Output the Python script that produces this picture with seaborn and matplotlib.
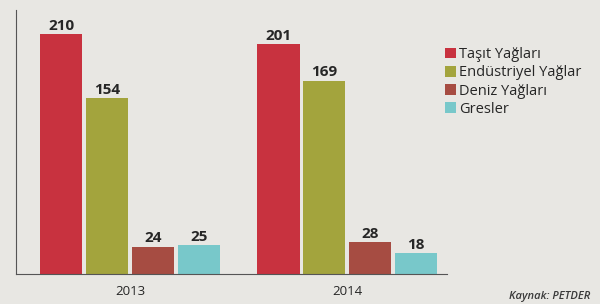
import pandas as pd
import seaborn as sns
import matplotlib.pyplot as plt
from matplotlib.patches import Patch

# data
years = ["2013", "2014"]
categories = ["Taşıt Yağları", "Endüstriyel Yağlar", "Deniz Yağları", "Gresler"]
values_2013 = [210, 154, 24, 25]
values_2014 = [201, 169, 28, 18]
colors = ["#c8323f", "#a3a43d", "#a64c42", "#78c8ca"]

df = pd.DataFrame({
    "year": [years[0]] * 4 + [years[1]] * 4,
    "cat": categories * 2,
    "value": values_2013 + values_2014,
})

sns.set_style("white")
plt.rcParams["font.family"] = ["Open Sans", "DejaVu Sans"]

bg = "#e8e7e3"
fig = plt.figure(figsize=(6, 3.04), dpi=100, facecolor=bg)
ax = fig.add_axes([16 / 600, 30 / 304, 431 / 600, 264 / 304], facecolor=bg)

sns.barplot(data=df, x="year", y="value", hue="cat", hue_order=categories,
            palette=colors, width=0.843, gap=0.08, saturation=1,
            linewidth=0, edgecolor="none", legend=False, ax=ax)

for cont in ax.containers:
    ax.bar_label(cont, fmt="%d", padding=1, fontsize=11,
                 fontweight="bold", color="#262626")

ax.set_xlim(-0.525, 1.46)
ax.set_ylim(0, 231)
ax.set_yticks([0, 50, 100, 150, 200])
ax.set_yticklabels([])
ax.tick_params(axis="y", length=3, width=0.6, color="#555555", direction="in")
ax.tick_params(axis="x", length=0, labelsize=9.5, colors="#262626", pad=8)
ax.set_xlabel("")
ax.set_ylabel("")
for s in ["top", "right"]:
    ax.spines[s].set_visible(False)
for s in ["left", "bottom"]:
    ax.spines[s].set_color("#555555")
    ax.spines[s].set_linewidth(0.8)

handles = [Patch(facecolor=c, edgecolor="none") for c in colors]
fig.legend(handles, categories, loc="upper left", bbox_to_anchor=(432 / 600, 1 - 34 / 304),
           frameon=False, fontsize=10.5, handlelength=0.75, handleheight=0.75,
           handletextpad=0.2, labelspacing=0.22, labelcolor="#262626")

fig.text(590 / 600, 1 - 297 / 304, "Kaynak: PETDER", ha="right", va="center",
         fontsize=8, style="italic", fontweight="semibold", color="#3a3a3a")

fig.savefig("out.png", dpi=100, facecolor=bg)
